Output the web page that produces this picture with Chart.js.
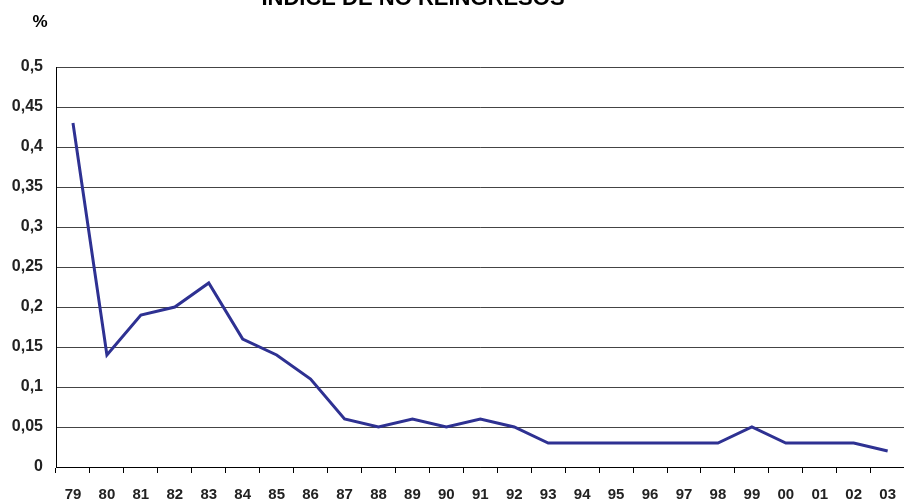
<!DOCTYPE html>
<html>
<head>
<meta charset="utf-8">
<script src="https://cdn.jsdelivr.net/npm/chart.js@4/dist/chart.umd.min.js"></script>
<style>
    html, body { margin: 0; padding: 0; background: #fff; overflow: hidden; width: 904px; height: 503px; }
    #wrap { position: relative; width: 904px; height: 503px; overflow: hidden; }
    #chart { position: absolute; left: 0; top: 0; }
</style>
</head>
<body>
<div id="wrap"><canvas id="chart" width="909" height="503"></canvas></div>
<script>
// Data
const years = ['79', '80', '81', '82', '83', '84', '85', '86', '87', '88', '89', '90', '91',
               '92', '93', '94', '95', '96', '97', '98', '99', '00', '01', '02', '03'];
const noReingresos = [0.43, 0.14, 0.19, 0.20, 0.23, 0.16, 0.14, 0.11, 0.06, 0.05, 0.06, 0.05, 0.06,
                      0.05, 0.03, 0.03, 0.03, 0.03, 0.03, 0.03, 0.05, 0.03, 0.03, 0.03, 0.02];
const chartTitle = 'ÍNDICE DE NO REINGRESOS';
const unitLabel = '%';

// Title and unit label drawn as text (the title is cut off at the top in the original)
const extraText = {
    id: 'extraText',
    afterDraw(chart) {
        const ctx = chart.ctx;
        ctx.save();
        ctx.fillStyle = '#000';
        ctx.textAlign = 'center';
        ctx.textBaseline = 'alphabetic';
        ctx.font = 'bold 22px "Liberation Sans", Arial, sans-serif';
        ctx.fillText(chartTitle, 413, 5);
        ctx.font = 'bold 17px "Liberation Sans", Arial, sans-serif';
        ctx.textBaseline = 'middle';
        ctx.fillText(unitLabel, 40, 22);
        ctx.restore();
    }
};

const ctx = document.getElementById('chart').getContext('2d');
new Chart(ctx, {
    type: 'line',
    data: {
        labels: years,
        datasets: [{
            data: noReingresos,
            borderColor: '#2E3192',
            borderWidth: 3,
            pointRadius: 0,
            tension: 0,
            fill: false
        }]
    },
    options: {
        responsive: false,
        animation: false,
        devicePixelRatio: 1,
        layout: {
            padding: { top: 67, right: 0, left: 0, bottom: 0 }
        },
        plugins: {
            legend: { display: false },
            title: { display: false },
            tooltip: { enabled: false }
        },
        scales: {
            x: {
                offset: true,
                grid: {
                    offset: true,
                    drawOnChartArea: false,
                    drawTicks: true,
                    tickLength: 6,
                    color: '#000'
                },
                border: { color: '#000', width: 1 },
                ticks: {
                    color: '#222',
                    padding: 13,
                    maxRotation: 0,
                    autoSkip: false,
                    font: { family: '"Liberation Sans", Arial, sans-serif', size: 15, weight: 'bold' }
                },
                afterFit(scale) { scale.height = 36; }
            },
            y: {
                min: 0,
                max: 0.5,
                grid: {
                    color: '#444',
                    drawTicks: false
                },
                border: { color: '#000', width: 1 },
                ticks: {
                    stepSize: 0.05,
                    color: '#222',
                    padding: 13,
                    font: { family: '"Liberation Sans", Arial, sans-serif', size: 16, weight: 'bold' },
                    callback: function(value) {
                        return (Math.round(value * 100) / 100).toString().replace('.', ',');
                    }
                },
                afterFit(scale) { scale.width = 56; }
            }
        }
    },
    plugins: [extraText]
});
</script>
</body>
</html>
